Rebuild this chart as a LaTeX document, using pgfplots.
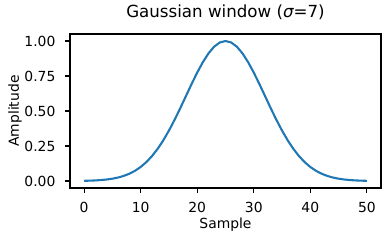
\documentclass[border=0pt]{standalone}
\usepackage{fontspec}
\setmainfont{DejaVu Sans}
\usepackage{pgfplots}
\pgfplotsset{compat=1.18}
\definecolor{tabblue}{HTML}{1F77B4}
\begin{document}
\begin{tikzpicture}
\begin{axis}[
  name=ax,
  scale only axis,
  width=223.9pt, height=110.9pt,
  xmin=-2.5, xmax=52.5, ymin=-0.05, ymax=1.05,
  axis line style={line width=0.8pt},
  every tick/.style={black, line width=0.8pt},
  tick align=outside, tick pos=left,
  major tick length=3.5pt,
  xtick={0,10,20,30,40,50},
  ytick={0,0.25,0.5,0.75,1},
  /pgf/number format/assume math mode=true,
  yticklabel style={/pgf/number format/.cd, fixed, fixed zerofill, precision=2, /tikz/.cd, font=\fontsize{10}{12}\selectfont, xshift=-3.5pt},
  xticklabel style={font=\fontsize{10}{12}\selectfont, yshift=-3.5pt},
  scaled y ticks=false,
  xlabel={Sample}, ylabel={Amplitude},
  xlabel style={font=\fontsize{10}{12}\selectfont, at={(axis description cs:0.5,0)}, anchor=base, yshift=-28.8pt},
  ylabel style={font=\fontsize{10}{12}\selectfont, at={(axis description cs:-0.1769,0.5)}, anchor=center},
  title={Gaussian window ({\itshape σ}=7)},
  title style={font=\fontsize{12}{14}\selectfont, at={(axis description cs:0.5,1)}, anchor=base, yshift=5.8pt},
]
\addplot[tabblue, line width=1.5pt, mark=none] coordinates {
(0,0.00170) (1,0.00280) (2,0.00453) (3,0.00716) (4,0.01111) (5,0.01688)
(6,0.02513) (7,0.03666) (8,0.05239) (9,0.07337) (10,0.10067) (11,0.13534)
(12,0.17826) (13,0.23007) (14,0.29092) (15,0.36045) (16,0.43757) (17,0.52045)
(18,0.60653) (19,0.69257) (20,0.77484) (21,0.84937) (22,0.91226) (23,0.96000)
(24,0.98985) (25,1.00000) (26,0.98985) (27,0.96000) (28,0.91226) (29,0.84937)
(30,0.77484) (31,0.69257) (32,0.60653) (33,0.52045) (34,0.43757) (35,0.36045)
(36,0.29092) (37,0.23007) (38,0.17826) (39,0.13534) (40,0.10067) (41,0.07337)
(42,0.05239) (43,0.03666) (44,0.02513) (45,0.01688) (46,0.01111) (47,0.00716)
(48,0.00453) (49,0.00280) (50,0.00170)
};
\end{axis}
\pgfresetboundingbox
\useasboundingbox ([xshift=-50.4pt,yshift=-37.9pt]ax.south west) rectangle ([xshift=6.5pt,yshift=24.5pt]ax.north east);
\end{tikzpicture}
\end{document}
